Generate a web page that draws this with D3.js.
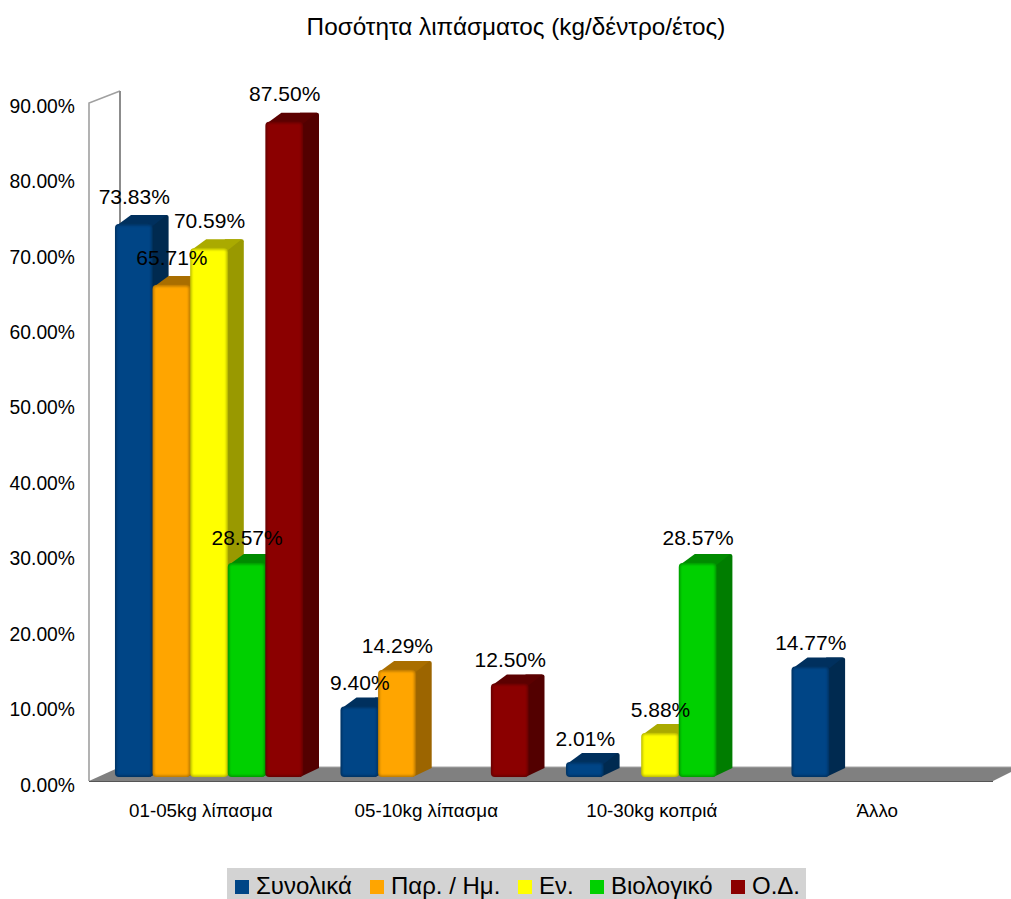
<!DOCTYPE html>
<html><head><meta charset="utf-8">
<script src="https://cdn.jsdelivr.net/npm/d3@7"></script>
<style>html,body{margin:0;padding:0;background:#fff}svg{display:block}text{font-family:"Liberation Sans",Arial,sans-serif;fill:#000}</style>
</head><body><svg id="c" width="1011" height="899"></svg>
<script>
const categories=["01-05kg λίπασμα","05-10kg λίπασμα","10-30kg κοπριά","Άλλο"];
const seriesNames=["Συνολικά","Παρ. / Ημ.","Εν.","Βιολογικό","Ο.Δ."];
const colors=["#004586","#ffa500","#ffff00","#00d000","#8b0000"];
const sideColors=["#002a50","#9c6500","#999900","#007d00","#530000"];
const topColors=["#00305e","#a96e00","#aaaa00","#008a00","#5c0000"];
const synolika=[73.83,9.40,2.01,14.77];
const parIm=[65.71,14.29,null,null];
const en=[70.59,null,5.88,null];
const viologiko=[28.57,null,28.57,null];
const od=[87.50,12.50,null,null];
const seriesValues=[synolika,parIm,en,viologiko,od];
const tickValues=[0,10,20,30,40,50,60,70,80,90];
const title="Ποσότητα λιπάσματος (kg/δέντρο/έτος)";

const svg=d3.select("#c");
const defs=svg.append("defs");
defs.append("filter").attr("id","soft").attr("x","-20%").attr("y","-20%").attr("width","140%").attr("height","140%")
  .append("feGaussianBlur").attr("stdDeviation",1.2);
const dx=16,dy=9;
const x0=d3.scaleBand().domain(categories).range([96,998]);
const barW=37.6;
const x1=d3.scaleLinear().domain([0,seriesNames.length]).range([19,19+barW*seriesNames.length]);
const y=d3.scaleLinear().domain([0,90]).range([777,103]);
const yTick=d3.scaleLinear().domain([0,90]).range([785,106]);

// title
svg.append("text").attr("x",516).attr("y",35).attr("text-anchor","middle").style("font-size","24.3px").text(title);

// wall + floor
svg.append("path").attr("d","M89,781L89,103L120,91L120,767Z").attr("fill","#fff").attr("stroke","none");
svg.append("path").attr("d","M89,781L89,103L120,91").attr("fill","none").attr("stroke","#a0a0a0").attr("stroke-width",1.6);
svg.append("line").attr("x1",120).attr("y1",91).attr("x2",120).attr("y2",767).attr("stroke","#8c8c8c").attr("stroke-width",2);
svg.append("path").attr("d","M89,781L120,767L1011,767L1011,772L993,781Z").attr("fill","#808080");
svg.append("line").attr("x1",120).attr("y1",767).attr("x2",1011).attr("y2",767).attr("stroke","#a6a6a6").attr("stroke-width",1);
svg.append("line").attr("x1",89).attr("y1",781.5).attr("x2",993).attr("y2",781.5).attr("stroke","#555").attr("stroke-width",1.2);

// bars
const bars=[];
seriesValues.forEach((vals,s)=>vals.forEach((v,c)=>{ if(v!==null) bars.push({s,c,v}); }));
bars.sort((a,b)=>a.c-b.c||a.s-b.s);
const g=svg.append("g");
bars.forEach(b=>{
  const l=x0(categories[b.c])+x1(b.s), r=l+barW, t=y(b.v), bt=y(0);
  const e=g.append("g");
  e.append("path").attr("d",`M${r-3},${bt}L${r+dx},${bt-dy}L${r+dx},${t-dy+2}Q${r+dx},${t-dy} ${r+dx-2},${t-dy}L${r-3},${t-dy}Z`).attr("fill",sideColors[b.s]);
  e.append("path").attr("d",`M${l+1},${t+2}L${l+dx},${t-dy}L${r+dx-2},${t-dy}L${r},${t+2}Z`).attr("fill",topColors[b.s]);
  const h=bt-t;
  e.append("rect").attr("x",l).attr("y",t).attr("width",barW).attr("height",h).attr("rx",4)
    .attr("fill",d3.color(colors[b.s]).darker(0.9));
  e.append("rect").attr("x",l+1.5).attr("y",t+1.5).attr("width",barW-3).attr("height",Math.max(h-3,1)).attr("rx",2)
    .attr("fill",colors[b.s]).attr("filter","url(#soft)");
});

// data labels
svg.append("g").selectAll("text").data(bars).join("text")
  .attr("x",d=>x0(categories[d.c])+x1(d.s)+barW/2+0.5)
  .attr("y",d=>yTick(d.v)-24)
  .attr("text-anchor","middle").style("font-size","21px")
  .text(d=>d.v.toFixed(2)+"%");

// y axis
const ya=svg.append("g").attr("transform","translate(75,0)")
  .call(d3.axisLeft(yTick).tickValues(tickValues).tickSize(0).tickPadding(0).tickFormat(d=>d.toFixed(2)+"%"));
ya.select(".domain").remove();
ya.selectAll("text").style("font-size","19.3px").style("font-family",'"Liberation Sans",Arial,sans-serif').attr("fill","#000");

// x axis
const xa=svg.append("g").attr("transform","translate(-8,803.5)")
  .call(d3.axisBottom(x0).tickSize(0).tickPadding(0));
xa.select(".domain").remove();
xa.selectAll("text").style("font-size","18.8px").style("font-family",'"Liberation Sans",Arial,sans-serif').attr("fill","#000");

// legend
const legendX=[235,370,518,590,731];
svg.append("rect").attr("x",227).attr("y",868).attr("width",579).attr("height",31).attr("fill","#d3d3d3");
const lg=svg.append("g").selectAll("g").data(seriesNames).join("g").attr("transform",(d,i)=>`translate(${legendX[i]},0)`);
lg.append("rect").attr("y",880).attr("width",14).attr("height",14).attr("fill",(d,i)=>colors[i]);
lg.append("text").attr("x",21).attr("y",893.8).style("font-size","24px").text(d=>d);
</script></body></html>
